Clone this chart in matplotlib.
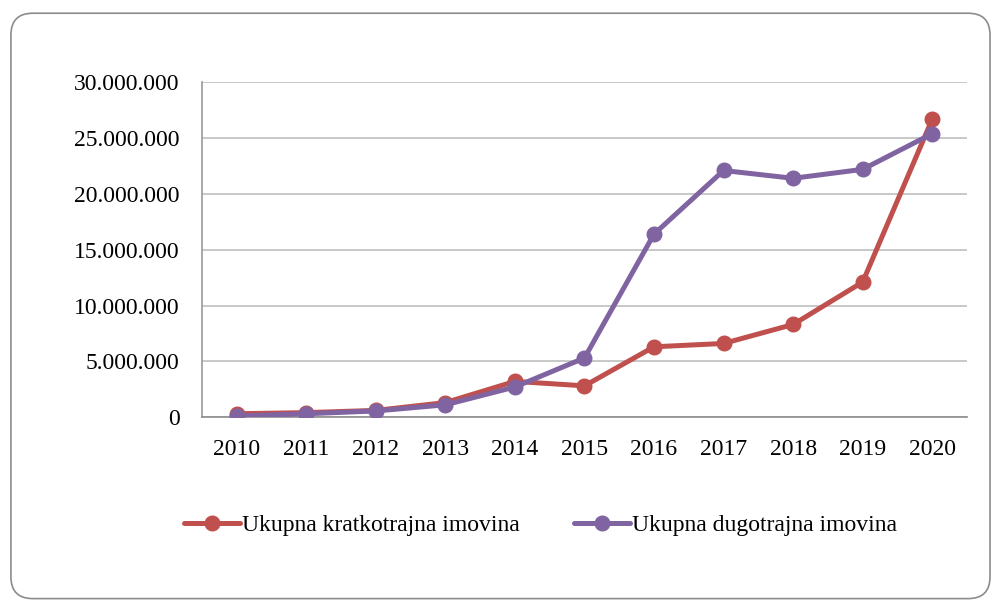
import matplotlib
matplotlib.use("Agg")
import matplotlib.pyplot as plt
from matplotlib.patches import FancyBboxPatch
from matplotlib.ticker import FuncFormatter

godine = [2010, 2011, 2012, 2013, 2014, 2015, 2016, 2017, 2018, 2019, 2020]
kratkotrajna = [300000, 400000, 600000, 1300000, 3200000, 2800000, 6300000, 6600000, 8300000, 12100000, 26700000]
dugotrajna = [100000, 300000, 550000, 1100000, 2700000, 5300000, 16400000, 22100000, 21400000, 22200000, 25400000]

plt.rcParams['font.family'] = ['Liberation Serif', 'DejaVu Serif']

fig = plt.figure(figsize=(9.93, 6.01), dpi=100)
ax = fig.add_axes([0.2034, 0.306, 0.7704, 0.557])

# okvir grafikona
okvir = FancyBboxPatch((0.011, 0.004), 0.986, 0.974, boxstyle="round,pad=0,rounding_size=0.022",
                       transform=fig.transFigure, fill=False, edgecolor="#8c8c8c", linewidth=1.2,
                       mutation_aspect=993 / 601)
fig.patches.append(okvir)

x = list(range(len(godine)))
ax.plot(x, kratkotrajna, color="#C0504D", linewidth=3.6, marker="o", markersize=10.5,
        label="Ukupna kratkotrajna imovina", solid_capstyle="round", zorder=3)
ax.plot(x, dugotrajna, color="#8064A2", linewidth=3.6, marker="o", markersize=10.5,
        label="Ukupna dugotrajna imovina", solid_capstyle="round", zorder=4)

ax.set_xlim(-0.5, len(godine) - 0.5)
ax.set_ylim(0, 30000000)
ax.set_yticks(range(0, 30000001, 5000000))
ax.yaxis.set_major_formatter(FuncFormatter(lambda v, p: f"{int(v):,}".replace(",", ".")))
ax.set_xticks(x)
ax.set_xticklabels([str(g) for g in godine])
ax.tick_params(axis="both", labelsize=17, length=0, colors="black")
ax.tick_params(axis="x", pad=16)
ax.tick_params(axis="y", pad=16)

ax.grid(axis="y", color="#bfbfbf", linewidth=1.2)
ax.set_axisbelow(True)
for s in ["top", "right"]:
    ax.spines[s].set_visible(False)
ax.spines["left"].set_color("#999999")
ax.spines["bottom"].set_color("#8c8c8c")
ax.spines["left"].set_linewidth(1.2)
ax.spines["bottom"].set_linewidth(1.2)

fig.legend(loc="center", bbox_to_anchor=(0.544, 0.126), ncol=2, frameon=False, fontsize=17,
           handlelength=2.4, handletextpad=0.05, columnspacing=2.3)

fig.savefig("out.png", dpi=100)
